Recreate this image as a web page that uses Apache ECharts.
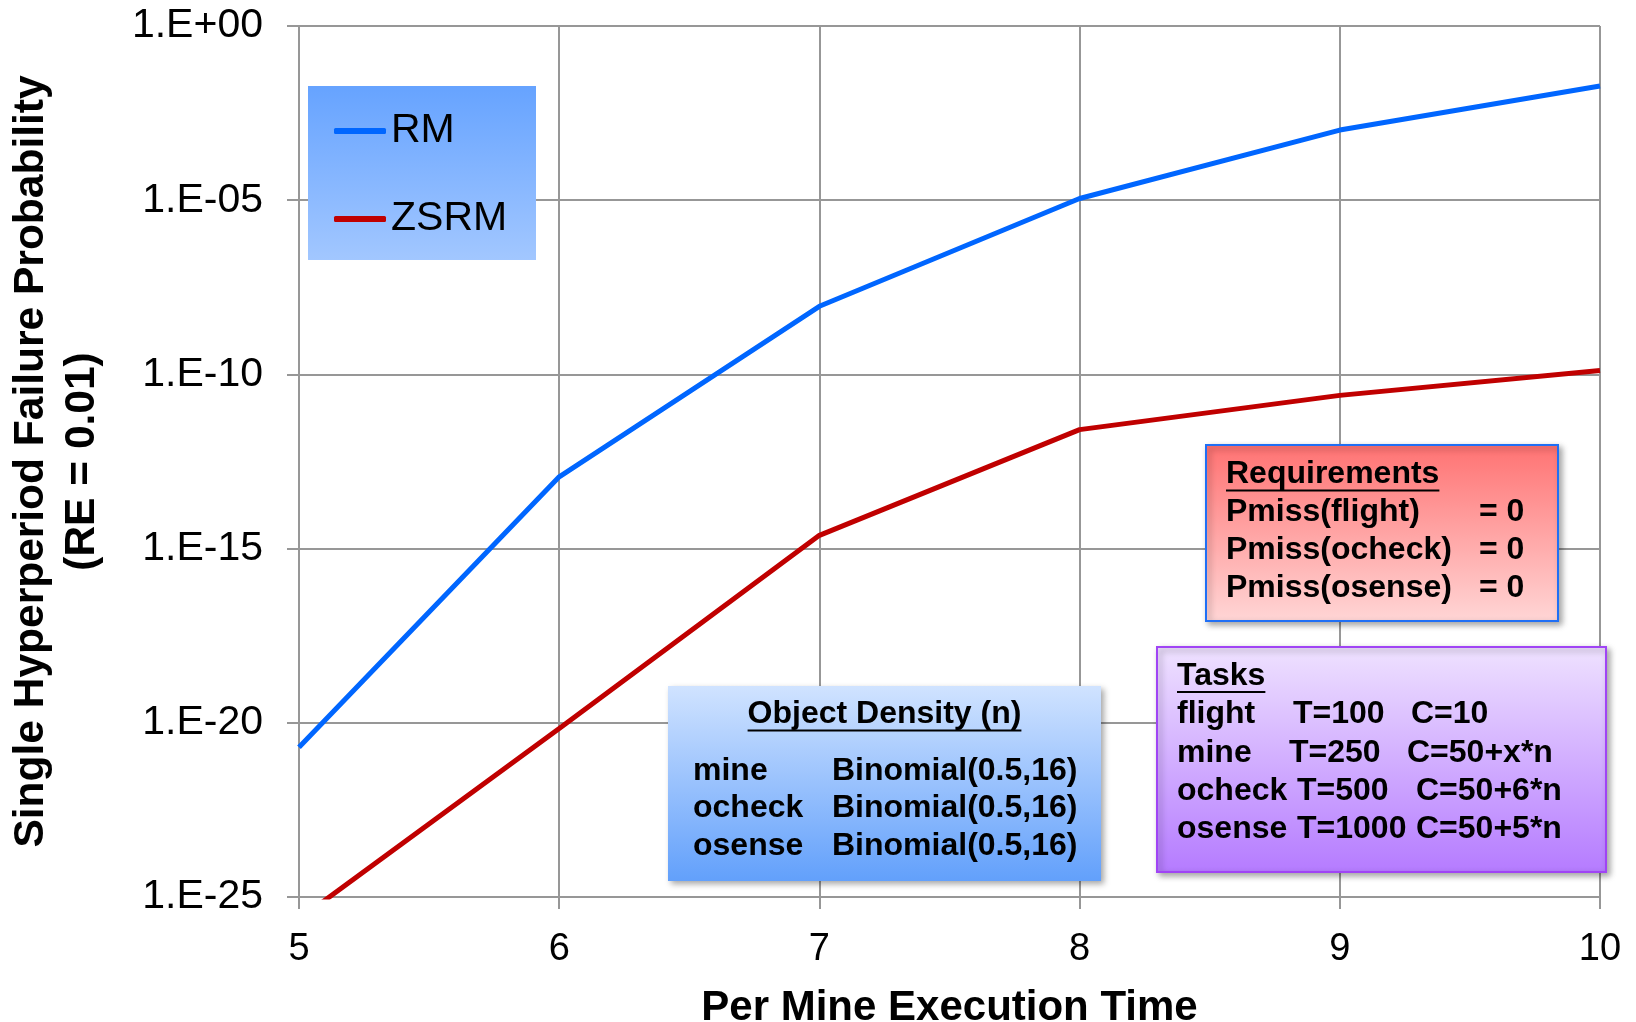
<!DOCTYPE html>
<html>
<head>
<meta charset="utf-8">
<script src="https://cdn.jsdelivr.net/npm/echarts@6/dist/echarts.min.js"></script>
<style>
  html, body { margin: 0; padding: 0; background: #ffffff; }
  #chart { width: 1636px; height: 1022px; }
</style>
</head>
<body>
<div id="chart"></div>
<script>
// Per-mine execution time (x) and single-hyperperiod failure probability (log y)
const executionTimes = [5, 6, 7, 8, 9, 10];
const rmProbability = [2.0e-21, 1.15e-13, 9.0e-9, 1.12e-5, 1.03e-3, 1.9e-2];
const zsrmProbability = [2.3e-26, 6.9e-21, 2.4e-15, 2.6e-12, 2.5e-11, 1.3e-10];
const seriesNames = ['RM', 'ZSRM'];
const yTickValues = [1e-25, 1e-20, 1e-15, 1e-10, 1e-5, 1];
const yTitleLines = ['Single Hyperperiod Failure Probability', '(RE = 0.01)'];
const xTitle = 'Per Mine Execution Time';

// Annotation boxes
const densityTitle = 'Object Density (n)';
const densityRows = [
  ['mine', 'Binomial(0.5,16)'],
  ['ocheck', 'Binomial(0.5,16)'],
  ['osense', 'Binomial(0.5,16)']
];
const requirementsTitle = 'Requirements';
const requirementRows = [
  ['Pmiss(flight)', '= 0'],
  ['Pmiss(ocheck)', '= 0'],
  ['Pmiss(osense)', '= 0']
];
const tasksTitle = 'Tasks';
const taskRows = [
  ['flight', 'T=100', 'C=10'],
  ['mine', 'T=250', 'C=50+x*n'],
  ['ocheck', 'T=500', 'C=50+6*n'],
  ['osense', 'T=1000', 'C=50+5*n']
];

const FONT = "'Liberation Sans', Arial, sans-serif";
const BOX_FONT_SIZE = 32;

const measureCtx = document.createElement('canvas').getContext('2d');
function textWidth(str, size, weight) {
  measureCtx.font = (weight || 'normal') + ' ' + size + 'px ' + FONT;
  return measureCtx.measureText(str).width;
}

function vGradient(top, bottom) {
  return new echarts.graphic.LinearGradient(0, 0, 0, 1, [
    { offset: 0, color: top },
    { offset: 1, color: bottom }
  ]);
}

function panel(x, y, w, h, top, bottom, border, shadow) {
  return {
    type: 'rect', z: 100,
    shape: { x: x, y: y, width: w, height: h },
    style: Object.assign({
      fill: vGradient(top, bottom),
      stroke: border || null,
      lineWidth: border ? 2 : 0
    }, shadow ? {
      shadowBlur: 6, shadowOffsetX: 3, shadowOffsetY: 3,
      shadowColor: 'rgba(0,0,0,0.35)'
    } : {})
  };
}

function label(str, x, y, align) {
  return {
    type: 'text', z: 101,
    x: x, y: y,
    style: {
      text: str, fill: '#000', font: 'bold ' + BOX_FONT_SIZE + 'px ' + FONT,
      align: align || 'left', verticalAlign: 'middle'
    }
  };
}

function underlined(str, x, y, align) {
  const w = textWidth(str, BOX_FONT_SIZE, 'bold');
  const x0 = align === 'center' ? x - w / 2 : x;
  return [
    label(str, x, y, align),
    {
      type: 'line', z: 101,
      shape: { x1: x0, y1: y + 16, x2: x0 + w, y2: y + 16 },
      style: { stroke: '#000', lineWidth: 2 }
    }
  ];
}

const graphics = [];

// Legend backdrop (sits under the legend component)
graphics.push({
  type: 'rect', z: 1,
  shape: { x: 308, y: 86, width: 228, height: 174 },
  style: { fill: vGradient('#66a3ff', '#a2c7ff') }
});

// Rotated y-axis title
graphics.push({
  type: 'text', z: 50,
  x: 57, y: 461.5, rotation: Math.PI / 2,
  style: {
    text: yTitleLines.join('\n'), fill: '#000',
    font: 'bold 42.5px ' + FONT, lineHeight: 51,
    align: 'center', verticalAlign: 'middle'
  }
});

// Object density box
graphics.push(panel(668, 686, 433, 195, '#d0e3ff', '#62a0fb', null, true));
graphics.push.apply(graphics, underlined(densityTitle, 884.5, 714.5, 'center'));
densityRows.forEach(function (row, i) {
  const y = 771 + i * 37.6;
  graphics.push(label(row[0], 693, y));
  graphics.push(label(row[1], 832, y));
});

// Requirements box
graphics.push(panel(1206, 445, 352, 176, '#ff7272', '#ffd6d6', '#1f6ff5', true));
graphics.push.apply(graphics, underlined(requirementsTitle, 1226, 474.5));
requirementRows.forEach(function (row, i) {
  const y = 512.5 + i * 38;
  graphics.push(label(row[0], 1226, y));
  graphics.push(label(row[1], 1479, y));
});

// Tasks box: columns are space-aligned per row
const taskPeriodX = [1293, 1289, 1297, 1297];
const taskCostX = [1411, 1407, 1416, 1416];
graphics.push(panel(1157, 647, 449, 225, '#efe2ff', '#b57bff', '#a044f5', true));
graphics.push.apply(graphics, underlined(tasksTitle, 1177, 676));
taskRows.forEach(function (row, i) {
  const y = 714.5 + i * 38.3;
  graphics.push(label(row[0], 1177, y));
  graphics.push(label(row[1], taskPeriodX[i], y));
  graphics.push(label(row[2], taskCostX[i], y));
});

function expLabel(v) {
  const e = Math.round(Math.log10(Number(v)));
  const digits = String(Math.abs(e)).padStart(2, '0');
  return '1.E' + (e < 0 ? '-' : '+') + digits;
}

const gridColor = '#979797';

const option = {
  animation: false,
  backgroundColor: '#ffffff',
  textStyle: { fontFamily: FONT },
  grid: {
    left: 299, right: 36, top: 26, bottom: 125,
    containLabel: false, outerBoundsMode: 'none'
  },
  legend: {
    orient: 'vertical',
    left: 334, top: 109, z: 10, padding: 0,
    icon: 'roundRect',
    itemWidth: 52, itemHeight: 6, itemGap: 44,
    textStyle: { fontSize: 41, lineHeight: 44, color: '#000', fontFamily: FONT },
    data: seriesNames
  },
  xAxis: {
    type: 'value',
    min: 5, max: 10, interval: 1,
    name: xTitle,
    nameLocation: 'middle', nameGap: 90,
    nameTextStyle: { fontSize: 42, fontWeight: 'bold', color: '#000', fontFamily: FONT },
    axisLine: { show: true, lineStyle: { color: gridColor, width: 2 } },
    axisTick: { show: true, inside: false, length: 12, lineStyle: { color: gridColor, width: 2 } },
    axisLabel: { fontSize: 38, color: '#000', margin: 34, fontFamily: FONT },
    splitLine: { show: true, lineStyle: { color: gridColor, width: 2 } }
  },
  yAxis: {
    type: 'log', logBase: 10,
    min: 1e-25, max: 1, interval: 5, splitNumber: 5,
    axisLine: { show: true, lineStyle: { color: gridColor, width: 2 } },
    axisTick: {
      show: true, inside: false, length: 12, customValues: yTickValues,
      lineStyle: { color: gridColor, width: 2 }
    },
    axisLabel: {
      fontSize: 41, color: '#000', margin: 36, fontFamily: FONT,
      customValues: yTickValues,
      showMinLabel: true, showMaxLabel: true, formatter: expLabel
    },
    splitLine: { show: true, lineStyle: { color: gridColor, width: 2 } },
    minorTick: { show: false },
    minorSplitLine: { show: false }
  },
  series: [
    {
      name: seriesNames[0], type: 'line', symbol: 'none', clip: true, z: 10,
      color: '#0066ff',
      lineStyle: { color: '#0066ff', width: 5 },
      data: executionTimes.map(function (x, i) { return [x, rmProbability[i]]; })
    },
    {
      name: seriesNames[1], type: 'line', symbol: 'none', clip: true, z: 10,
      color: '#c00000',
      lineStyle: { color: '#c00000', width: 5 },
      data: executionTimes.map(function (x, i) { return [x, zsrmProbability[i]]; })
    }
  ],
  graphic: graphics
};

const chart = echarts.init(document.getElementById('chart'), null, { renderer: 'canvas' });
chart.setOption(option);
</script>
</body>
</html>
